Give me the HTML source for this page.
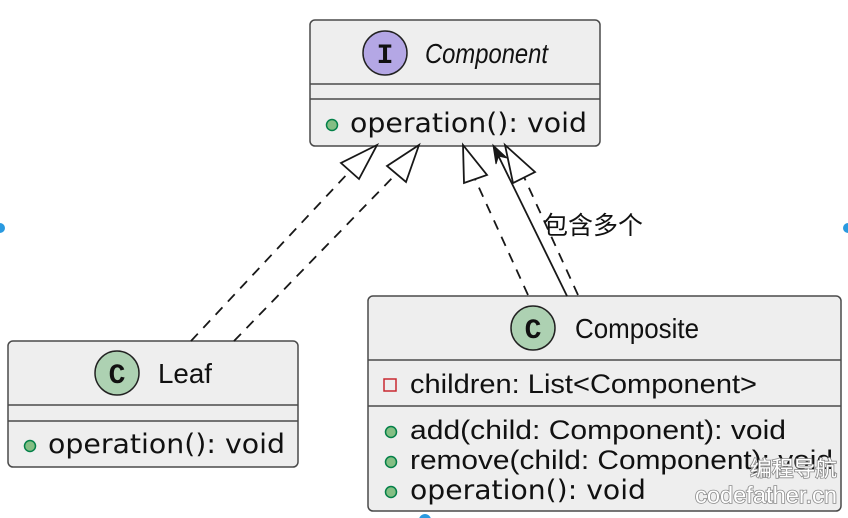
<!DOCTYPE html>
<html><head><meta charset="utf-8"><style>
html,body{margin:0;padding:0;background:#fff;}
svg{display:block;}
</style></head><body>
<svg width="848" height="518" viewBox="0 0 848 518" xmlns="http://www.w3.org/2000/svg">
<rect width="848" height="518" fill="#fff"/>
<!-- blue dots -->
<circle cx="0" cy="228" r="5" fill="#2a9ae0"/>
<circle cx="848" cy="228" r="5" fill="#2a9ae0"/>
<circle cx="425" cy="520" r="6" fill="#2a9ae0"/>

<!-- Component -->
<rect x="310" y="20" width="290" height="126" rx="5" fill="#eeeeee" stroke="#4a4a4a" stroke-width="1.5"/>
<line x1="310" y1="84" x2="600" y2="84" stroke="#4a4a4a" stroke-width="1.5"/>
<line x1="310" y1="99" x2="600" y2="99" stroke="#4a4a4a" stroke-width="1.5"/>
<circle cx="385" cy="53" r="22" fill="#b4a7e5" stroke="#222" stroke-width="1.5"/>
<text x="385" y="63" text-anchor="middle" font-family="Liberation Mono, monospace" font-weight="bold" font-size="28" fill="#111">I</text>
<text x="425" y="63" font-family="Liberation Sans, sans-serif" font-style="italic" font-size="28" textLength="123" lengthAdjust="spacingAndGlyphs" fill="#111">Component</text>
<circle cx="332" cy="125" r="5.5" fill="#84be84" stroke="#038048" stroke-width="1.5"/>
<text x="350" y="132" font-family="DejaVu Sans, sans-serif" font-size="27" textLength="237" lengthAdjust="spacingAndGlyphs" fill="#111">operation(): void</text>

<!-- Leaf -->
<rect x="8" y="341" width="290" height="126" rx="5" fill="#eeeeee" stroke="#4a4a4a" stroke-width="1.5"/>
<line x1="8" y1="405" x2="298" y2="405" stroke="#4a4a4a" stroke-width="1.5"/>
<line x1="8" y1="421" x2="298" y2="421" stroke="#4a4a4a" stroke-width="1.5"/>
<circle cx="117" cy="373" r="22" fill="#add1b2" stroke="#222" stroke-width="1.5"/>
<text x="117" y="383" text-anchor="middle" font-family="Liberation Mono, monospace" font-weight="bold" font-size="28" fill="#111">C</text>
<text x="158" y="383" font-family="Liberation Sans, sans-serif" font-size="28" textLength="54" lengthAdjust="spacingAndGlyphs" fill="#111">Leaf</text>
<circle cx="30" cy="446" r="5.5" fill="#84be84" stroke="#038048" stroke-width="1.5"/>
<text x="48" y="453" font-family="DejaVu Sans, sans-serif" font-size="27" textLength="237" lengthAdjust="spacingAndGlyphs" fill="#111">operation(): void</text>

<!-- Composite -->
<rect x="368" y="296" width="473" height="215" rx="5" fill="#eeeeee" stroke="#4a4a4a" stroke-width="1.5"/>
<line x1="368" y1="360" x2="841" y2="360" stroke="#4a4a4a" stroke-width="1.5"/>
<line x1="368" y1="406" x2="841" y2="406" stroke="#4a4a4a" stroke-width="1.5"/>
<circle cx="533" cy="328" r="22" fill="#add1b2" stroke="#222" stroke-width="1.5"/>
<text x="533" y="338" text-anchor="middle" font-family="Liberation Mono, monospace" font-weight="bold" font-size="28" fill="#111">C</text>
<text x="575" y="338" font-family="Liberation Sans, sans-serif" font-size="28" textLength="124" lengthAdjust="spacingAndGlyphs" fill="#111">Composite</text>
<rect x="384" y="379" width="12" height="12" fill="none" stroke="#c82930" stroke-width="1.5"/>
<text x="410" y="393" font-family="Liberation Sans, sans-serif" font-size="27" textLength="347" lengthAdjust="spacingAndGlyphs" fill="#111">children: List&lt;Component&gt;</text>
<circle cx="391" cy="432" r="5.5" fill="#84be84" stroke="#038048" stroke-width="1.5"/>
<text x="410" y="439" font-family="Liberation Sans, sans-serif" font-size="27" textLength="376" lengthAdjust="spacingAndGlyphs" fill="#111">add(child: Component): void</text>
<circle cx="391" cy="462" r="5.5" fill="#84be84" stroke="#038048" stroke-width="1.5"/>
<text x="410" y="469" font-family="Liberation Sans, sans-serif" font-size="27" textLength="423" lengthAdjust="spacingAndGlyphs" fill="#111">remove(child: Component): void</text>
<circle cx="391" cy="492" r="5.5" fill="#84be84" stroke="#038048" stroke-width="1.5"/>
<text x="410" y="499" font-family="DejaVu Sans, sans-serif" font-size="27" textLength="236" lengthAdjust="spacingAndGlyphs" fill="#111">operation(): void</text>

<!-- connectors -->
<g stroke="#181818" stroke-width="1.8" fill="none">
  <line x1="191" y1="341" x2="350" y2="171" stroke-dasharray="10,8"/>
  <line x1="234" y1="341" x2="396" y2="174" stroke-dasharray="10,8"/>
  <line x1="528" y1="295" x2="475" y2="179" stroke-dasharray="10,8"/>
  <line x1="578" y1="295" x2="524" y2="177" stroke-dasharray="10,8"/>
  <line x1="567" y1="296" x2="496" y2="151"/>
</g>
<g stroke="#181818" stroke-width="1.8" fill="#fff" stroke-linejoin="miter">
  <polygon points="377,145 341,163 359,179"/>
  <polygon points="419,145 387,166 406,182"/>
  <polygon points="463,145 464,183 487,175"/>
  <polygon points="505,145 535,172 513,183"/>
</g>
<polygon points="493,145 507,158 498.5,156 496,164" fill="#181818" stroke="#181818" stroke-width="1"/>

<text x="543" y="234" font-family="Liberation Sans, 'Noto Sans CJK SC', sans-serif" font-size="25" fill="#111">包含多个</text>

<!-- watermark -->
<g font-family="Liberation Sans, 'Noto Sans CJK SC', sans-serif" fill="#fff" stroke="#8a8a8a" stroke-width="1.6" paint-order="stroke">
  <text x="750" y="476" font-size="21" textLength="87" lengthAdjust="spacingAndGlyphs">编程导航</text>
  <text x="695" y="503" font-size="23" textLength="142" lengthAdjust="spacingAndGlyphs">codefather.cn</text>
</g>
</svg>
</body></html>
